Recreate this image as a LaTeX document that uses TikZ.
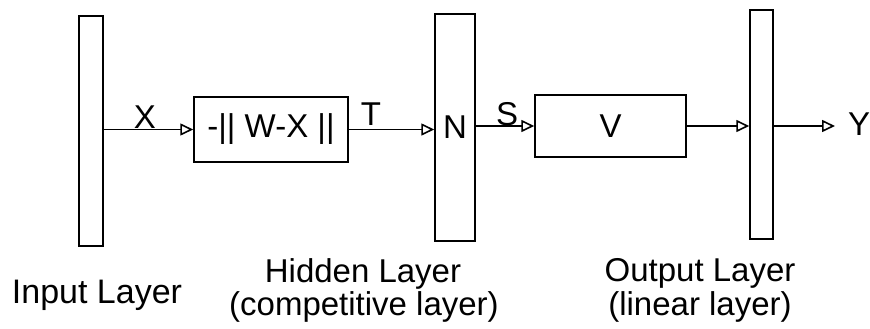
\documentclass[tikz,border=0pt]{standalone}
\usepackage{fontspec}
\setmainfont{Liberation Sans}
\usetikzlibrary{arrows.meta}
\begin{document}
\begin{tikzpicture}[x=1pt,y=-1pt,
  every node/.style={font=\fontsize{33}{35}\selectfont},
  bar/.style={draw,line width=1.5pt,minimum width=#1,inner sep=0pt},
  blk/.style={draw,line width=1.5pt,inner sep=0pt},
  conn/.style={line width=1.6pt,-{Triangle[open,length=13pt,width=12pt,line width=1.6pt]}},
  lbl/.style={inner sep=0pt,anchor=base}]
\useasboundingbox (0,0) rectangle (870,329);
% layers
\node[bar=24pt,minimum height=230pt] (inl) at (91,131) {};
\node[bar=40pt,minimum height=227pt] (hid) at (455,127.5) {N};
\node[bar=23pt,minimum height=229pt] (outl) at (761.5,124.5) {};
% blocks
\node[blk,minimum width=154pt,minimum height=65pt] (b1) at (271,129.5) {-|| W-X ||};
\node[blk,minimum width=151pt,minimum height=62pt] (bv) at (610.5,126) {V};
\node[inner sep=0pt,anchor=west] (yout) at (848,124) {Y};
% connectors
\draw[conn] (b1.west -| inl.east) -- (b1.west);
\draw[conn] (b1.east) -- (b1.east -| hid.west);
\draw[conn] (bv.west -| hid.east) -- (bv.west);
\draw[conn] (bv.east) -- (bv.east -| outl.west);
\draw[conn,shorten >=13pt] (bv.east -| outl.east) -- (bv.east -| yout.west);
% signal labels
\node[lbl] (lx) at (145,128) {X};
\node[lbl] (lt) at (371,125) {T};
\node[lbl] (ls) at (507,125) {S};
% layer captions
\node[lbl,font=\fontsize{34}{36}\selectfont] (cin) at (97,303) {Input Layer};
\node[lbl] (chid1) at (363,282) {Hidden Layer};
\node[lbl] (chid2) at (364,315) {(competitive layer)};
\node[lbl] (cout1) at (700,281) {Output Layer};
\node[lbl] (cout2) at (700,315) {(linear layer)};
\end{tikzpicture}
\end{document}
